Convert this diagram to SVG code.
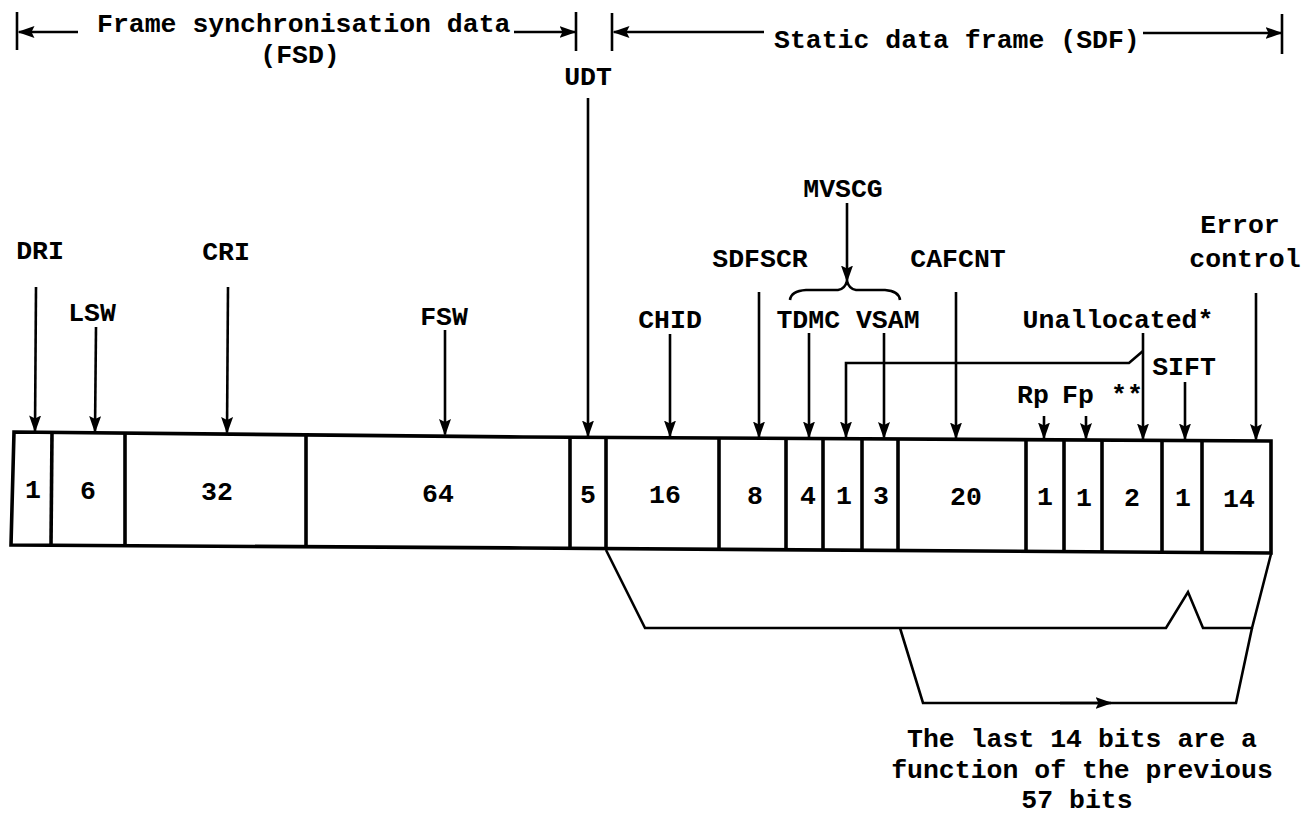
<svg xmlns="http://www.w3.org/2000/svg" width="1308" height="815" viewBox="0 0 1308 815">
<defs>
<marker id="ah" viewBox="0 0 17 12" refX="15.5" refY="6" markerWidth="17" markerHeight="12" markerUnits="userSpaceOnUse" orient="auto">
<path d="M0,0 L17,6 L0,12 L3,6 Z" fill="#000"/>
</marker>
<style>
text{font-family:"Liberation Mono","DejaVu Sans Mono",monospace;font-weight:bold;font-size:26.5px;fill:#000}
.c{text-anchor:middle}
.ln{stroke:#000;stroke-width:2.6;fill:none}
.ar{stroke:#000;stroke-width:2.6;fill:none;marker-end:url(#ah)}
.bx{stroke:#000;stroke-width:3.6;fill:none;stroke-linejoin:miter}
</style>
</defs>

<g id="fsd-span">
<line class="ln" x1="17" y1="12" x2="17" y2="50"/>
<line class="ar" x1="78" y1="32" x2="19" y2="32"/>
<text x="97" y="32">Frame synchronisation data</text>
<line class="ar" x1="514" y1="32" x2="575" y2="32"/>
<line class="ln" x1="576" y1="12" x2="576" y2="51"/>
<text class="c" x="300" y="63">(FSD)</text>
</g>

<g id="sdf-span">
<line class="ln" x1="612" y1="13" x2="612" y2="51"/>
<line class="ar" x1="764" y1="32" x2="614" y2="32"/>
<text x="774" y="48">Static data frame (SDF)</text>
<line class="ar" x1="1143" y1="33" x2="1281" y2="33"/>
<line class="ln" x1="1282" y1="14" x2="1282" y2="54"/>
</g>

<g id="frame">
<path class="bx" d="M14,432 L523,437 L1271,441 L1271,553 L523,548 L11,545 Z"/>
<line class="bx" x1="52" y1="432.4" x2="51" y2="545.2"/>
<line class="bx" x1="125" y1="433.1" x2="125" y2="545.7"/>
<line class="bx" x1="306" y1="434.9" x2="306" y2="546.7"/>
<line class="bx" x1="570" y1="437.3" x2="570" y2="548.3"/>
<line class="bx" x1="606" y1="437.4" x2="606" y2="548.6"/>
<line class="bx" x1="719" y1="438" x2="719" y2="549.3"/>
<line class="bx" x1="786" y1="438.4" x2="786" y2="549.8"/>
<line class="bx" x1="823" y1="438.6" x2="823" y2="550"/>
<line class="bx" x1="862" y1="438.8" x2="862" y2="550.3"/>
<line class="bx" x1="898" y1="439" x2="898" y2="550.5"/>
<line class="bx" x1="1026" y1="439.7" x2="1026" y2="551.4"/>
<line class="bx" x1="1064" y1="439.9" x2="1064" y2="551.6"/>
<line class="bx" x1="1102" y1="440.1" x2="1102" y2="551.9"/>
<line class="bx" x1="1162" y1="440.4" x2="1162" y2="552.3"/>
<line class="bx" x1="1202" y1="440.6" x2="1202" y2="552.5"/>
</g>

<g id="bits">
<text class="c" x="33" y="498">1</text>
<text class="c" x="88" y="499">6</text>
<text class="c" x="217" y="500">32</text>
<text class="c" x="438" y="502">64</text>
<text class="c" x="588" y="502.5">5</text>
<text class="c" x="665" y="503">16</text>
<text class="c" x="755" y="503.5">8</text>
<text class="c" x="808" y="504">4</text>
<text class="c" x="844" y="504">1</text>
<text class="c" x="881" y="504">3</text>
<text class="c" x="966" y="505">20</text>
<text class="c" x="1045" y="505">1</text>
<text class="c" x="1084" y="505.5">1</text>
<text class="c" x="1132" y="506">2</text>
<text class="c" x="1183" y="506">1</text>
<text class="c" x="1239" y="506.5">14</text>
</g>

<g id="labels">
<text class="c" x="40" y="259">DRI</text>
<text class="c" x="92" y="321">LSW</text>
<text class="c" x="226" y="260">CRI</text>
<text class="c" x="444" y="325">FSW</text>
<text class="c" x="588" y="85">UDT</text>
<text class="c" x="670" y="328">CHID</text>
<text class="c" x="760" y="267">SDFSCR</text>
<text class="c" x="843" y="197">MVSCG</text>
<text class="c" x="848" y="328">TDMC VSAM</text>
<text class="c" x="958" y="267">CAFCNT</text>
<text class="c" x="1240" y="233">Error</text>
<text class="c" x="1245" y="267">control</text>
<text class="c" x="1118" y="328">Unallocated*</text>
<text class="c" x="1033" y="403">Rp</text>
<text class="c" x="1078" y="403">Fp</text>
<text class="c" x="1127" y="403">**</text>
<text class="c" x="1184" y="375">SIFT</text>
<text class="c" x="1082" y="747">The last 14 bits are a</text>
<text class="c" x="1082" y="778">function of the previous</text>
<text class="c" x="1077" y="808">57 bits</text>
</g>

<g id="connectors">
<line class="ar" x1="36" y1="287" x2="35" y2="431"/>
<line class="ar" x1="96" y1="327" x2="95" y2="431.5"/>
<line class="ar" x1="228" y1="287" x2="227" y2="432.5"/>
<line class="ar" x1="445" y1="330" x2="445" y2="434.5"/>
<line class="ar" x1="588" y1="98" x2="588" y2="436"/>
<line class="ar" x1="670" y1="334" x2="670" y2="436"/>
<line class="ar" x1="759" y1="292" x2="759" y2="437"/>
<line class="ar" x1="809" y1="333" x2="809" y2="437"/>
<line class="ar" x1="884" y1="333" x2="884" y2="437.5"/>
<line class="ar" x1="956" y1="292" x2="956" y2="438"/>
<line class="ar" x1="1044" y1="416" x2="1044" y2="438"/>
<line class="ar" x1="1086" y1="416" x2="1086" y2="438.5"/>
<line class="ar" x1="1143" y1="333" x2="1143" y2="439"/>
<path class="ar" d="M1143,351 L1129,363 L846,363 L846,437"/>
<line class="ar" x1="1185" y1="382" x2="1185" y2="439"/>
<line class="ar" x1="1256" y1="293" x2="1256" y2="439.5"/>
<line class="ar" x1="847" y1="203" x2="847" y2="281"/>
<path class="ln" d="M790,300 Q791,291 806,290 L838,290 Q845,289 847,281 Q849,289 856,290 L885,290 Q899,291 900,300"/>
<path class="ln" d="M606,550 L645,628 L1166,628 L1188,592 L1203,628 L1252,628 L1271,554"/>
<path class="ln" d="M900,628 L923,703 L1236,703 L1252,628"/>
<line class="ar" x1="1060" y1="703" x2="1111" y2="703"/>
</g>
</svg>
